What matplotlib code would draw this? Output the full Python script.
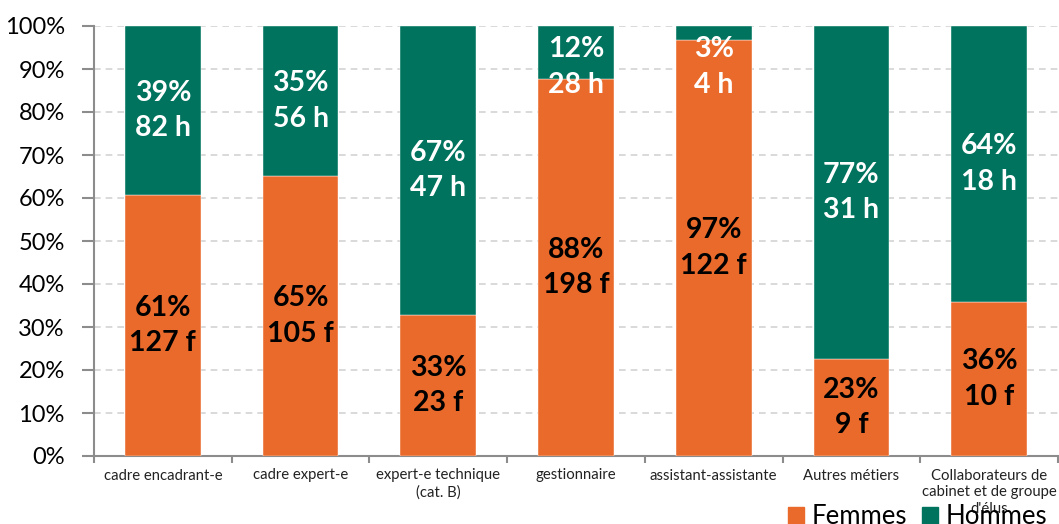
import numpy as np
import matplotlib.pyplot as plt
from matplotlib.patches import Patch

# données : effectifs par métier
categories = ['cadre encadrant-e', 'cadre expert-e', 'expert-e technique\n(cat. B)',
              'gestionnaire', 'assistant-assistante', 'Autres métiers',
              "Collaborateurs de\ncabinet et de groupe\nd'élus"]
femmes = [127, 105, 23, 198, 122, 9, 10]
hommes = [82, 56, 47, 28, 4, 31, 18]
pct_femmes_lbl = [61, 65, 33, 88, 97, 23, 36]
pct_hommes_lbl = [39, 35, 67, 12, 3, 77, 64]

ORANGE = '#EA6A2B'
VERT = '#00735E'

plt.rcParams['font.family'] = ['Lato', 'DejaVu Sans']

f = np.array(femmes, dtype=float)
h = np.array(hommes, dtype=float)
tot = f + h
pf = f / tot * 100
ph = h / tot * 100

fig = plt.figure(figsize=(10.59, 5.24), dpi=100)
ax = fig.add_axes([94 / 1059, 1 - 456 / 524, 964 / 1059, 430 / 524])

x = np.arange(len(categories))
w = 0.55
ax.bar(x, pf, width=w, color=ORANGE, zorder=3, edgecolor='white', linewidth=0.3)
ax.bar(x, ph, width=w, bottom=pf, color=VERT, zorder=3, edgecolor='white', linewidth=0.3)

# étiquettes dans les barres
for i in range(len(categories)):
    yf = pf[i] / 2
    ax.text(x[i], yf, f'{pct_femmes_lbl[i]}%\n{femmes[i]} f', ha='center', va='center',
            fontsize=20.5, fontweight='bold', color='black', zorder=5, linespacing=1.45)
    yh = min(pf[i] + ph[i] / 2, 90.5)
    ax.text(x[i], yh, f'{pct_hommes_lbl[i]}%\n{hommes[i]} h', ha='center', va='center',
            fontsize=20.5, fontweight='bold', color='white', zorder=5, linespacing=1.45)

ax.set_xlim(-0.5, len(categories) - 0.5)
ax.set_ylim(0, 100)
ax.set_yticks(np.arange(0, 101, 10))
ax.set_yticklabels([f'{v}%' for v in range(0, 101, 10)], fontsize=17)
ax.yaxis.grid(True, linestyle=(0, (4, 3)), color='#D3D3D3', linewidth=1.2, zorder=0)

ax.set_xticks(x)
ax.set_xticklabels(categories, fontsize=10.7, color='#222222', linespacing=1.25)
ax.tick_params(axis='x', length=0, pad=9)
ax.set_xticks(np.arange(-0.5, len(categories), 1), minor=True)
ax.tick_params(axis='x', which='minor', length=5, width=1.5, color='#8C8C8C', direction='out')
ax.tick_params(axis='y', length=9, width=1.5, color='#8C8C8C', pad=12)

for s in ['top', 'right']:
    ax.spines[s].set_visible(False)
for s in ['left', 'bottom']:
    ax.spines[s].set_color('#8C8C8C')
    ax.spines[s].set_linewidth(1.5)

handles = [Patch(color=ORANGE, label='Femmes'), Patch(color=VERT, label='Hommes')]
fig.legend(handles=handles, loc='lower left', bbox_to_anchor=(778 / 1059, -0.03), ncol=2,
           frameon=False, fontsize=18.5, handlelength=0.6, handleheight=0.6,
           handletextpad=0.3, columnspacing=0.6, borderaxespad=0)

fig.savefig('out.png', dpi=100)
